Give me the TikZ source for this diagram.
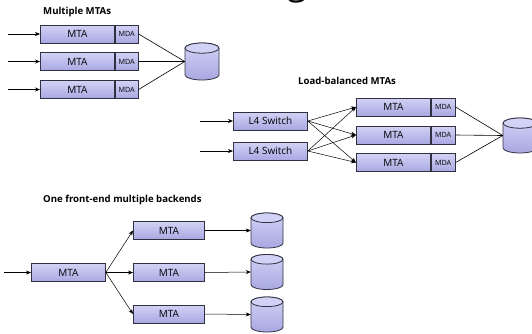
\documentclass[tikz,border=0pt]{standalone}
\usepackage{fontspec}
\setmainfont{Open Sans}
\usetikzlibrary{arrows.meta,positioning}

\definecolor{boxtop}{HTML}{D2D2F6}
\definecolor{boxbot}{HTML}{A8A8E2}
\definecolor{edge}{HTML}{303040}

\tikzset{
  unit/.style={draw=edge, line width=0.8pt, top color=boxtop, bottom color=boxbot,
    minimum height=18pt, inner sep=0pt, anchor=west},
  mtabox/.style={unit, minimum width=74pt, font=\fontsize{10}{12}\selectfont},
  mdabox/.style={unit, minimum width=23pt, font=\fontsize{7.2}{8}\selectfont},
  switchbox/.style={unit, minimum width=74pt, font=\fontsize{10}{12}\selectfont},
  heading/.style={font=\bfseries\fontsize{9.6}{11}\selectfont, anchor=west, inner sep=0pt},
  flow/.style={-{Stealth[length=5pt,width=4pt]}, line width=0.5pt},
  link/.style={line width=0.6pt},
  dbline/.style={draw=edge, line width=0.8pt},
}

% \storage{name}{x}{y}{width}{height}: a named frame plus a drawn cylinder
\newcommand\storage[5]{%
  \node[inner sep=0pt, minimum width=#4pt, minimum height=#5pt] (#1) at (#2,#3) {};
  \begin{scope}[shift={(#2,#3)}, x=1pt, y=1pt]
    \pgfmathsetmacro\rw{#4/2}
    \pgfmathsetmacro\rh{#5/2}
    \pgfmathsetmacro\re{0.15*#4}
    \path[dbline, top color=boxtop, bottom color=boxbot]
      (-\rw,\rh-\re) -- (-\rw,-\rh+\re)
      arc[start angle=180, end angle=360, x radius=\rw, y radius=\re]
      -- (\rw,\rh-\re)
      arc[start angle=0, end angle=180, x radius=\rw, y radius=\re] -- cycle;
    \path[dbline, fill=boxtop] (0,\rh-\re) ellipse[x radius=\rw, y radius=\re];
  \end{scope}}

\begin{document}
\begin{tikzpicture}[x=1pt,y=-1pt]
\useasboundingbox (0,0) rectangle (532,333);

% title running off the top of the page
\node[anchor=base, font=\fontsize{36}{40}\selectfont] (pagetitle) at (297,-6) {g};

% ---- Multiple MTAs ----
\node[heading] (h1) at (43,12) {Multiple MTAs};
\foreach \i/\y in {1/34,2/61.5,3/89.5}{
  \node[mtabox] (a\i) at (40,\y) {MTA};
  \node[mdabox] (ad\i) at (a\i.east) {MDA};
  \coordinate (ain\i) at (8,\y);
  \draw[flow] (ain\i) -- (a\i.west);
}
\storage{db1}{202}{61.5}{34}{37}
\foreach \i in {1,2,3}{
  \draw[link] (ad\i.east) -- (db1.west);
}

% ---- Load-balanced MTAs ----
\node[heading] (h2) at (298,81) {Load-balanced MTAs};
\foreach \i/\y in {1/121,2/151}{
  \node[switchbox] (s\i) at (233,\y) {L4 Switch};
  \coordinate (sin\i) at (200,\y);
  \draw[flow] (sin\i) -- (s\i.west);
}
\foreach \i/\y in {1/107,2/135,3/162.5}{
  \node[mtabox] (b\i) at (356,\y) {MTA};
  \node[mdabox, minimum width=24pt] (bd\i) at (b\i.east) {MDA};
}
\storage{db2}{520}{135.5}{34}{35}
\foreach \s in {1,2}{
  \foreach \i in {1,2,3}{
    \draw[flow] (s\s.east) -- (b\i.west);
  }
}
\foreach \i in {1,2,3}{
  \draw[link] (bd\i.east) -- (db2.west);
}

% ---- One front-end multiple backends ----
\node[heading] (h3) at (43,200) {One front-end multiple backends};
\node[mtabox] (f0) at (31,272.5) {MTA};
\coordinate (fin) at (4,272.5);
\draw[flow] (fin) -- (f0.west);
\foreach \i/\y/\c in {1/230.5/230.5,2/272.5/272,3/314/314.5}{
  \node[mtabox, minimum width=71pt] (c\i) at (133,\y) {MTA};
  \storage{dc\i}{267}{\c}{32}{35}
  \draw[flow] (f0.east) -- (c\i.west);
  \draw[flow] (c\i.east) -- (dc\i.west);
}
\end{tikzpicture}
\end{document}
